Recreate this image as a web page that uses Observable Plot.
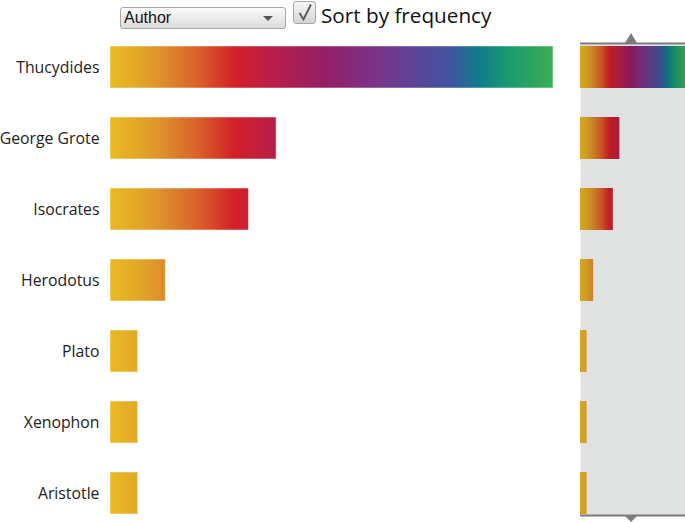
<!DOCTYPE html>
<html>
<head>
<meta charset="utf-8">
<script src="https://cdn.jsdelivr.net/npm/d3@7"></script>
<script src="https://cdn.jsdelivr.net/npm/@observablehq/plot@0.6"></script>
<style>
  html, body { margin: 0; padding: 0; background: #fff; }
  #wrap { position: relative; width: 685px; height: 522px; overflow: hidden; font-family: "Open Sans", sans-serif; }
  #main, #mini { position: absolute; top: 0; }
  #main { left: 0; }
  #mini { left: 580px; }
  #main svg, #mini svg { display: block; overflow: visible; }
  #sel {
    position: absolute; left: 120px; top: 7px; width: 166px; height: 22px; box-sizing: border-box;
    -webkit-appearance: none; appearance: none; margin: 0;
    border: 1px solid #a8a8a8; border-radius: 3px;
    background: linear-gradient(#fbfbfb, #dcdcdc);
    font-family: "Liberation Sans", Arial, sans-serif; font-size: 16px; color: #111;
    padding: 0 0 0 3px; line-height: 20px;
  }
  #arrow {
    position: absolute; left: 263px; top: 16px; width: 0; height: 0;
    border-left: 5px solid transparent; border-right: 5px solid transparent; border-top: 5px solid #555;
    pointer-events: none;
  }
  #chk {
    position: absolute; left: 293px; top: 1px; width: 23px; height: 23px; box-sizing: border-box;
    border: 1px solid #a8a8a8; border-radius: 3px; background: linear-gradient(#f6f6f6, #d4d4d4);
  }
  #chk svg { position: absolute; left: 2px; top: 1px; }
  #lbl {
    position: absolute; left: 321px; top: 1px; font-family: "Open Sans", sans-serif; font-size: 20.7px; color: #111;
    white-space: nowrap;
  }
</style>
</head>
<body>
<div id="wrap">
  <div id="main"></div>
  <div id="mini"></div>
  <select id="sel"><option>Author</option></select>
  <div id="arrow"></div>
  <div id="chk"><svg width="18" height="19" viewBox="0 0 18 19"><path d="M3.5 10 L7.5 16.5 L15 1.5" fill="none" stroke="#555" stroke-width="1.8"/></svg></div>
  <div id="lbl">Sort by frequency</div>
</div>
<script>
// ---- data ----
const authors = ["Thucydides", "George Grote", "Isocrates", "Herodotus", "Plato", "Xenophon", "Aristotle"];
const counts = [16, 6, 5, 2, 1, 1, 1];
// gradient palette (offset along the value axis, colour)
const stopOffsets = [0, 0.06, 0.12, 0.2, 0.28, 0.37, 0.49, 0.6, 0.77, 0.83, 0.9, 1];
const stopColors = ["#e9ba22", "#e3a926", "#dd8e2c", "#d9602a", "#d42027", "#b81e48", "#931f66", "#7b3389", "#3f55a0", "#0f7a8d", "#1a9b6e", "#3cae53"];

const data = authors.map((a, i) => ({author: a, count: counts[i]}));
const maxCount = d3.max(counts);

function gradientDef(id, colorFn) {
  return (index, scales) => {
    const g = d3.create("svg:g");
    const lg = g.append("defs").append("linearGradient")
      .attr("id", id)
      .attr("gradientUnits", "userSpaceOnUse")
      .attr("x1", scales.x(0)).attr("x2", scales.x(maxCount))
      .attr("y1", 0).attr("y2", 0);
    stopOffsets.forEach((o, i) => {
      lg.append("stop").attr("offset", o).attr("stop-color", colorFn(stopColors[i]));
    });
    return g.node();
  };
}

const yOpts = {domain: authors, paddingInner: 0.41, paddingOuter: 0.02};

const main = Plot.plot({
  width: 685, height: 522,
  marginLeft: 110, marginRight: 132, marginTop: 44, marginBottom: 7,
  style: {fontFamily: "'Open Sans', sans-serif", fontSize: "15.8px", color: "#222", background: "transparent"},
  x: {domain: [0, maxCount], axis: null},
  y: {...yOpts, label: null, tickSize: 0, tickPadding: 11},
  marks: [
    gradientDef("mainGrad", c => c),
    Plot.barX(data, {x: "count", y: "author", fill: "url(#mainGrad)", stroke: "#fff", strokeOpacity: 0.5, strokeWidth: 1})
  ]
});
document.getElementById("main").append(main);

const mini = Plot.plot({
  width: 105, height: 522,
  marginLeft: 0, marginRight: 0, marginTop: 44, marginBottom: 7,
  style: {background: "transparent"},
  x: {domain: [0, maxCount], axis: null},
  y: {...yOpts, axis: null},
  marks: [
    Plot.frame({fill: "#e0e1e1", stroke: null}),
    gradientDef("miniGrad", c => d3.color(c).darker(0.25).formatHex()),
    Plot.barX(data, {x: "count", y: "author", fill: "url(#miniGrad)"}),
    (index, scales, values, dims) => {
      const {width, height, marginTop, marginBottom} = dims;
      const top = marginTop, bot = height - marginBottom;
      const cx = width / 2 - 1.5;
      const g = d3.create("svg:g").attr("fill", "#7b7b7b");
      g.append("rect").attr("x", 0).attr("y", top - 1.5).attr("width", width).attr("height", 2);
      g.append("rect").attr("x", 0).attr("y", bot - 0.5).attr("width", width).attr("height", 2);
      g.append("path").attr("d", `M${cx - 6},${top - 1} L${cx},${top - 11} L${cx + 6},${top - 1} Z`);
      g.append("path").attr("d", `M${cx - 6},${bot + 1} L${cx},${bot + 7} L${cx + 6},${bot + 1} Z`);
      return g.node();
    }
  ]
});
document.getElementById("mini").append(mini);
</script>
</body>
</html>
